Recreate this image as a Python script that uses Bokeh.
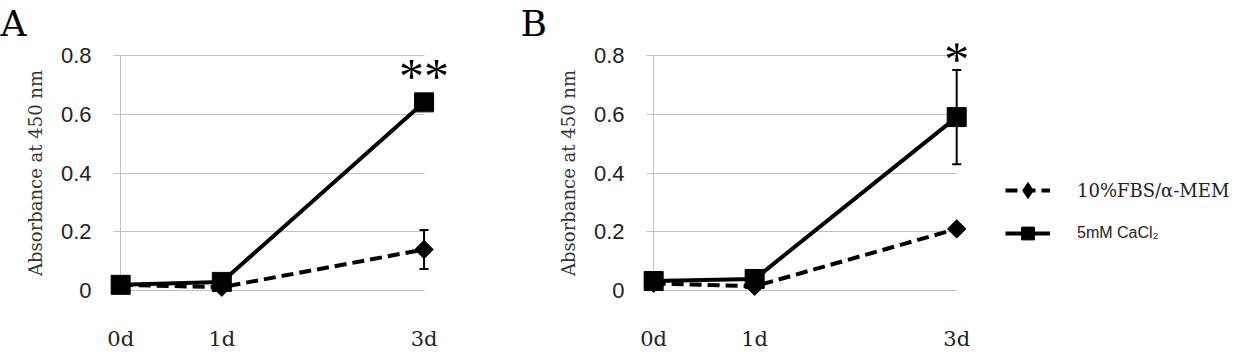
import numpy as np
from bokeh.plotting import figure
from bokeh.models import (FixedTicker, Range1d, Whisker, TeeHead, ColumnDataSource,
                          Legend, LegendItem)
from bokeh.layouts import row
from bokeh.core.properties import value
from bokeh.embed import file_html
from bokeh.resources import INLINE

# ---------------- data ----------------
days = [0, 1, 3]
day_labels = ["0d", "1d", "3d"]
y_ticks = [0, 0.2, 0.4, 0.6, 0.8]
y_tick_labels = ["0", "0.2", "0.4", "0.6", "0.8"]
series_names = ["10%FBS/α-MEM", "5mM CaCl₂"]
panel_letters = ["A", "B"]

a_fbs = [0.02, 0.012, 0.14]
a_fbs_err = [0.0, 0.0, 0.066]
a_ca = [0.02, 0.03, 0.64]
a_ca_err = [0.0, 0.0, 0.0]

b_fbs = [0.025, 0.015, 0.21]
b_fbs_err = [0.0, 0.0, 0.0]
b_ca = [0.033, 0.04, 0.59]
b_ca_err = [0.0, 0.0, 0.16]

sig_a = "**"
sig_b = "*"

GRID = "#c0c0c0"
SERIF = "DejaVu Serif"
SERIF2 = "Liberation Serif"
SANS = "Liberation Sans"


def make_panel(letter, fbs, fbs_err, ca, ca_err, sig, sig_offset, x_end, frame_w,
               left_border, right_border, with_legend=False):
    p = figure(x_range=Range1d(-0.15, x_end), y_range=Range1d(-0.04, 0.84),
               frame_width=frame_w, frame_height=259,
               min_border_left=left_border, min_border_right=right_border,
               min_border_top=42, min_border_bottom=58,
               output_backend="svg", toolbar_location=None)
    p.outline_line_color = None
    p.background_fill_color = "white"
    p.border_fill_color = "white"

    # panel letter as title
    p.title.text = letter
    p.title.text_font = SERIF
    p.title.text_font_size = "36px"
    p.title.text_font_style = "normal"
    p.title.text_color = "black"
    p.title.align = "left"
    p.title.offset = -left_border
    p.title.standoff = 0

    # axes
    p.xaxis.ticker = FixedTicker(ticks=days)
    p.xaxis.major_label_overrides = {d: l for d, l in zip(days, day_labels)}
    p.xaxis.axis_line_color = None
    p.xaxis.major_tick_line_color = None
    p.xaxis.minor_tick_line_color = None
    p.xaxis.major_label_text_font = SERIF
    p.xaxis.major_label_text_font_size = "21px"
    p.xaxis.major_label_text_color = "#222222"
    p.xaxis.major_label_standoff = 18

    p.yaxis.ticker = FixedTicker(ticks=y_ticks)
    p.yaxis.major_label_overrides = {t: l for t, l in zip(y_ticks, y_tick_labels)}
    p.yaxis.axis_line_color = None
    p.yaxis.major_tick_line_color = None
    p.yaxis.minor_tick_line_color = None
    p.yaxis.major_label_text_font = SANS
    p.yaxis.major_label_text_font_size = "22px"
    p.yaxis.major_label_text_color = "#222222"
    p.yaxis.major_label_standoff = 8
    p.yaxis.axis_label = "Absorbance at 450 nm"
    p.yaxis.axis_label_text_font = SERIF
    p.yaxis.axis_label_text_font_size = "18px"
    p.yaxis.axis_label_text_font_style = "normal"
    p.yaxis.axis_label_text_color = "#333333"
    p.yaxis.axis_label_standoff = 12

    # grids
    p.ygrid.ticker = FixedTicker(ticks=y_ticks)
    p.ygrid.cross_bounds = (-0.07, days[-1])
    p.ygrid.grid_line_color = GRID
    p.ygrid.grid_line_width = 1
    p.xgrid.ticker = FixedTicker(ticks=[days[0]])
    p.xgrid.cross_bounds = (y_ticks[0], y_ticks[-1])
    p.xgrid.grid_line_color = GRID
    p.xgrid.grid_line_width = 1

    # error bars
    for vals, errs in ((fbs, fbs_err), (ca, ca_err)):
        v = np.array(vals); e = np.array(errs); d = np.array(days)
        m = e > 0
        if m.any():
            src = ColumnDataSource(dict(x=d[m], upper=(v + e)[m], lower=(v - e)[m]))
            w = Whisker(source=src, base="x", upper="upper", lower="lower",
                        line_color="black", line_width=2,
                        upper_head=TeeHead(size=9, line_width=2, line_color="black"),
                        lower_head=TeeHead(size=9, line_width=2, line_color="black"))
            p.add_layout(w)

    fl = p.line(days, fbs, line_color="black", line_width=4, line_dash="12 6")
    p.scatter(days, fbs, marker="square", angle=np.pi / 4, size=13,
              fill_color="black", line_color="black")
    cl = p.line(days, ca, line_color="black", line_width=4)
    cm = p.scatter(days, ca, marker="square", size=19,
                   fill_color="black", line_color="black")

    top = ca[-1] + ca_err[-1]
    p.text(x=[days[-1]], y=[top], text=[sig], text_font=value(SERIF2),
           text_font_size="50px", text_align="center", text_baseline="alphabetic",
           text_color="black", y_offset=sig_offset)

    if with_legend:
        # legend-only diamond glyph (same style as the plotted diamonds, not drawn)
        fm_leg = p.scatter(x=[np.nan], y=[np.nan], marker="diamond", size=18,
                           fill_color="black", line_color="black")
        common = dict(glyph_width=45, label_standoff=27, padding=0,
                      margin=0, spacing=0, border_line_color=None,
                      background_fill_alpha=0, label_text_color="#222222")
        leg1 = Legend(items=[LegendItem(label=series_names[0], renderers=[fl, fm_leg])],
                      location=(367, 92), glyph_height=40, label_text_font=SERIF,
                      label_text_font_size="18px", **common)
        leg2 = Legend(items=[LegendItem(label=series_names[1], renderers=[cl, cm])],
                      location=(367, 53), glyph_height=32, label_text_font=SANS,
                      label_text_font_size="16px", **common)
        p.add_layout(leg1)
        p.add_layout(leg2)
    return p


pa = make_panel(panel_letters[0], a_fbs, a_fbs_err, a_ca, a_ca_err, sig_a, -26,
                3.4, 359, 105, 56)
pb = make_panel(panel_letters[1], b_fbs, b_fbs_err, b_ca, b_ca_err, sig_b, -11,
                5.77, 598, 118, 0, with_legend=True)

layout = row(pa, pb)
open("out.html", "w").write(file_html(layout, INLINE, title="Absorbance"))
